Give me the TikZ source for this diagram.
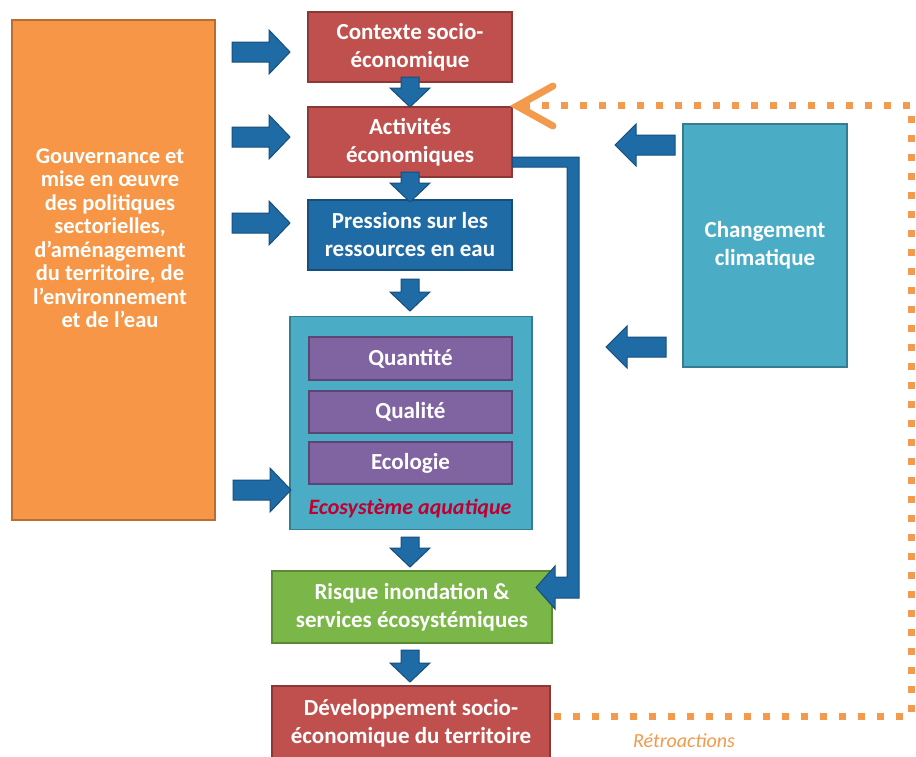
\documentclass[tikz,border=0pt]{standalone}
\usepackage{fontspec}
\setmainfont{Carlito}
\usetikzlibrary{calc}
\definecolor{redA}{HTML}{C0504D}
\definecolor{redD}{HTML}{8C3836}
\definecolor{blueA}{HTML}{1F6BA5}
\definecolor{blueD}{HTML}{164E7C}
\definecolor{tealA}{HTML}{4BACC6}
\definecolor{tealD}{HTML}{357D91}
\definecolor{purA}{HTML}{8064A2}
\definecolor{purD}{HTML}{5A4575}
\definecolor{greenA}{HTML}{7AB648}
\definecolor{greenD}{HTML}{5A8A33}
\definecolor{orA}{HTML}{F79646}
\definecolor{orD}{HTML}{B86E30}
\definecolor{orDot}{HTML}{F39A4C}
\definecolor{ecoRed}{HTML}{C00030}
\tikzset{
  box/.style={draw, line width=1.2pt, inner sep=0pt, text=white, align=center,
    font=\bfseries\fontsize{23}{28}\selectfont},
  blockarrowstyle/.style={fill=blueA, draw=blueD, line width=1pt, line join=miter},
  fb/.style={orDot, line width=7pt, dash pattern=on 7pt off 12pt}
}
% #1 name, #2 x, #3 y, #4 rotation, #5 length, #6 head width, #7 shaft width, #8 head length
\newcommand\myBlockArrow[8]{%
  \coordinate (#1) at (#2,#3);
  \begin{scope}[shift={(#2,#3)}, rotate=#4]
    \draw[blockarrowstyle] (-#5/2,-#7/2) -- (#5/2-#8,-#7/2) -- (#5/2-#8,-#6/2) -- (#5/2,0)
      -- (#5/2-#8,#6/2) -- (#5/2-#8,#7/2) -- (-#5/2,#7/2) -- cycle;
  \end{scope}}
\begin{document}
\begin{tikzpicture}[x=1pt,y=-1pt]
\useasboundingbox[fill=white] (0,0) rectangle (916,756);

% governance box
\node[box, fill=orA, draw=orD, minimum width=203pt, minimum height=500pt] (gov) at (113.5,270) {};
\node[text=white, align=center, inner sep=0pt, font=\bfseries\fontsize{22.5}{23.5}\selectfont] (govtxt) at (110,238)
  {Gouvernance et\\mise en œuvre\\des politiques\\sectorielles,\\d’aménagement\\du territoire, de\\l’environnement\\et de l’eau};

% central chain
\node[box, fill=redA, draw=redD, minimum width=204pt, minimum height=70pt] (ctx) at (410,47) {Contexte socio-\\économique};
\node[box, fill=redA, draw=redD, minimum width=204pt, minimum height=70pt] (act) at (410,142) {Activités\\économiques};
\node[box, fill=blueA, draw=blueD, minimum width=204pt, minimum height=70pt] (pres) at (410,235) {Pressions sur les\\ressources en eau};

\node[box, fill=tealA, draw=tealD, minimum width=242pt, minimum height=213pt] (eco) at (411,423) {};
\node[box, fill=purA, draw=purD, minimum width=203pt, minimum height=43pt] (qte) at (410.5,358.5) {Quantité};
\node[box, fill=purA, draw=purD, minimum width=203pt, minimum height=42pt] (qlt) at (410.5,412) {Qualité};
\node[box, fill=purA, draw=purD, minimum width=203pt, minimum height=42pt] (ecl) at (410.5,463) {Ecologie};
\node[text=ecoRed, inner sep=0pt, font=\bfseries\itshape\fontsize{22}{24}\selectfont] (ecolab) at (410,508) {Ecosystème aquatique};

\node[box, fill=greenA, draw=greenD, minimum width=280pt, minimum height=72pt] (risk) at (412,607) {Risque inondation \&\\services écosystémiques};
\node[box, fill=redA, draw=redD, minimum width=278pt, minimum height=74pt] (dev) at (411,723) {Développement socio-\\économique du territoire};

% climate change
\node[box, fill=tealA, draw=tealD, minimum width=164pt, minimum height=243pt] (clim) at (765,245.5) {Changement\\climatique};

% block arrows from governance
\myBlockArrow{g1}{261}{52}{0}{58}{44}{20}{21}
\myBlockArrow{g2}{261}{137}{0}{58}{44}{20}{21}
\myBlockArrow{g3}{261}{223}{0}{58}{44}{20}{21}
\myBlockArrow{g4}{262}{490}{0}{58}{44}{20}{21}

% down arrows
\myBlockArrow{d1}{410}{92}{-90}{30}{40}{18}{19}
\myBlockArrow{d2}{410}{187}{-90}{30}{40}{18}{19}
\myBlockArrow{d3}{410}{295}{-90}{32}{40}{18}{19}
\myBlockArrow{d4}{410}{552}{-90}{30}{40}{18}{19}
\myBlockArrow{d5}{410}{666}{-90}{32}{40}{18}{19}

% arrows from climate change
\myBlockArrow{c1}{645}{145}{180}{60}{42}{20}{21}
\myBlockArrow{c2}{636}{347}{180}{60}{42}{20}{21}

% bent connector Activités -> Risque
\draw[fill=blueA, draw=blueD, line width=1pt]
  ($(act.east)+(0,15)$) -- (579,157) -- (579,598) -- (555,598) -- (555,609) -- (536,587.5)
  -- (555,566) -- (555,577) -- (567,577) -- (567,167) -- ($(act.east)+(0,25)$) -- cycle;

% feedback loop
\coordinate (fbA) at ($(dev.east)+(3,-7)$);
\coordinate (fbB) at (911,716);
\coordinate (fbC) at (911,105);
\coordinate (fbD) at (522,105);
\draw[fb] (fbA) -- (fbB) -- (fbC) -- (fbD);
\draw[orDot, line width=7pt, line join=miter, line cap=round] (553,86) -- (517,106) -- (553,126);
\node[text=orDot, font=\itshape\fontsize{20}{22}\selectfont] (retro) at (684,741) {Rétroactions};
\end{tikzpicture}
\end{document}
